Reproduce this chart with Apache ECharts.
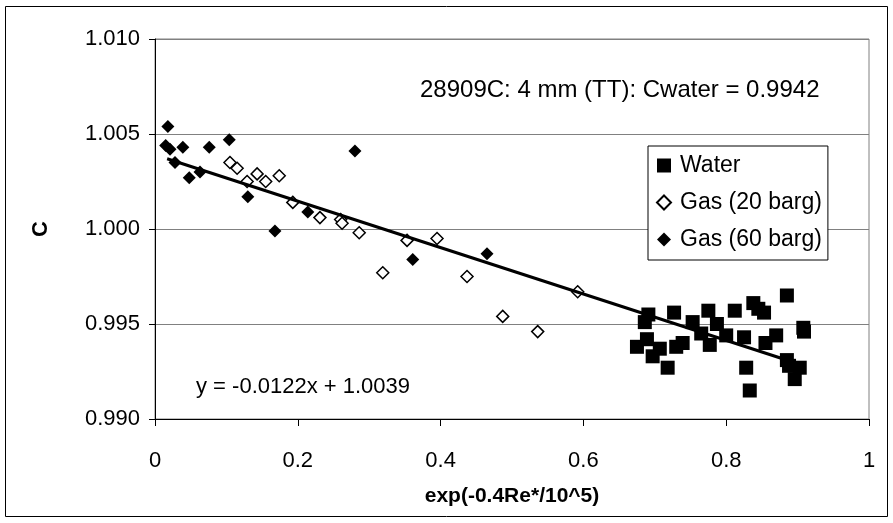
<!DOCTYPE html>
<html><head><meta charset="utf-8">
<script src="https://cdn.jsdelivr.net/npm/echarts@6/dist/echarts.min.js"></script>
<style>html,body{margin:0;padding:0;background:#fff}#c{width:893px;height:523px}</style>
</head><body><div id="c"></div>
<script>
const waterX = [0.675,0.686,0.689,0.691,0.697,0.707,0.718,0.727,0.730,0.739,0.753,0.765,0.775,0.777,0.787,0.800,0.812,0.825,0.828,0.833,0.838,0.845,0.853,0.855,0.870,0.885,0.885,0.888,0.896,0.903,0.908,0.909];
const waterY = [0.9938,0.9951,0.9942,0.9955,0.9933,0.9937,0.9927,0.9956,0.9938,0.9940,0.9951,0.9945,0.9957,0.9939,0.9950,0.9944,0.9957,0.9943,0.9927,0.9915,0.9961,0.9958,0.9956,0.9940,0.9944,0.9965,0.9931,0.9928,0.9921,0.9927,0.9948,0.9946];
const gas20X = [0.105,0.115,0.129,0.143,0.155,0.174,0.193,0.231,0.260,0.262,0.286,0.319,0.353,0.395,0.437,0.487,0.536,0.592];
const gas20Y = [1.0035,1.0032,1.0025,1.0029,1.0025,1.0028,1.0014,1.0006,1.0005,1.0003,0.9998,0.9977,0.9994,0.9995,0.9975,0.9954,0.9946,0.9967];
const gas60X = [0.015,0.018,0.021,0.028,0.039,0.048,0.063,0.076,0.104,0.130,0.168,0.214,0.280,0.361,0.465];
const gas60Y = [1.0044,1.0054,1.0042,1.0035,1.0043,1.0027,1.0030,1.0043,1.0047,1.0017,0.9999,1.0009,1.0041,0.9984,0.9987];
const trendX = [0.017, 0.877];
const trendY = [1.0037, 0.9932];
const seriesNames = ['Water', 'Gas (20 barg)', 'Gas (60 barg)'];
const xTicks = [0, 0.2, 0.4, 0.6, 0.8, 1];
const yTicks = [0.990, 0.995, 1.000, 1.005, 1.010];
const infoText = '28909C: 4 mm (TT): Cwater = 0.9942';
const eqText = 'y = -0.0122x + 1.0039';

const zip = (a, b) => a.map((v, i) => [v, b[i]]);
const FONT = '"Liberation Sans", Arial, sans-serif';
const chart = echarts.init(document.getElementById('c'), null, {renderer: 'canvas'});
chart.setOption({
  animation: false,
  backgroundColor: '#fff',
  textStyle: {fontFamily: FONT, color: '#000'},
  grid: {left: 155, top: 39, right: 24, bottom: 104, show: true, borderColor: '#808080', borderWidth: 1, backgroundColor: '#fff'},
  xAxis: {
    type: 'value', min: xTicks[0], max: xTicks[xTicks.length - 1], interval: 0.2,
    name: 'exp(-0.4Re*/10^5)', nameLocation: 'middle', nameGap: 67,
    nameTextStyle: {fontFamily: FONT, fontWeight: 'bold', fontSize: 21, color: '#000'},
    axisLine: {show: true, lineStyle: {color: '#000', width: 1}},
    axisTick: {show: true, length: 7, lineStyle: {color: '#000'}},
    axisLabel: {fontFamily: FONT, fontSize: 22, color: '#000', margin: 31,
      formatter: v => String(parseFloat(v.toFixed(1)))},
    splitLine: {show: false}
  },
  yAxis: {
    type: 'value', min: yTicks[0], max: yTicks[yTicks.length - 1], interval: 0.005,
    name: 'C', nameLocation: 'middle', nameGap: 103, nameRotate: 90,
    nameTextStyle: {fontFamily: FONT, fontWeight: 'bold', fontSize: 22, color: '#000'},
    axisLine: {show: true, lineStyle: {color: '#000', width: 1}},
    axisTick: {show: true, length: 6, lineStyle: {color: '#000'}},
    axisLabel: {fontFamily: FONT, fontSize: 22, color: '#000', margin: 15,
      formatter: v => v.toFixed(3)},
    splitLine: {show: true, lineStyle: {color: '#808080', width: 1}}
  },
  legend: {
    data: seriesNames, orient: 'vertical', left: 648, top: 146,
    backgroundColor: '#fff', borderColor: '#000', borderWidth: 1,
    padding: [8, 6, 9, 8], itemGap: 14, itemWidth: 14, itemHeight: 14,
    textStyle: {fontFamily: FONT, fontSize: 23, color: '#000', padding: [0, 0, 0, 4]}
  },
  graphic: [
    {type: 'rect', shape: {x: 5.5, y: 6.5, width: 882, height: 510}, style: {fill: 'none', stroke: '#000', lineWidth: 1}, silent: true, z: 100},
    {type: 'text', left: 420, top: 78, style: {text: infoText, font: '24px ' + FONT, fill: '#000'}, z: 100},
    {type: 'text', left: 196, top: 376, style: {text: eqText, font: '22px ' + FONT, fill: '#000'}, z: 100}
  ],
  series: [
    {name: seriesNames[0], type: 'scatter', symbol: 'rect', symbolSize: 14, data: zip(waterX, waterY), itemStyle: {color: '#000', opacity: 1}, z: 4},
    {name: seriesNames[1], type: 'scatter', symbol: 'diamond', symbolSize: 12, data: zip(gas20X, gas20Y), itemStyle: {color: '#fff', borderColor: '#000', borderWidth: 1.5, opacity: 1}, z: 2},
    {name: seriesNames[2], type: 'scatter', symbol: 'diamond', symbolSize: 13, data: zip(gas60X, gas60Y), itemStyle: {color: '#000', opacity: 1}, z: 2},
    {name: 'trend', type: 'line', data: zip(trendX, trendY), symbol: 'none', lineStyle: {color: '#000', width: 3}, z: 3, silent: true}
  ]
});
</script></body></html>
